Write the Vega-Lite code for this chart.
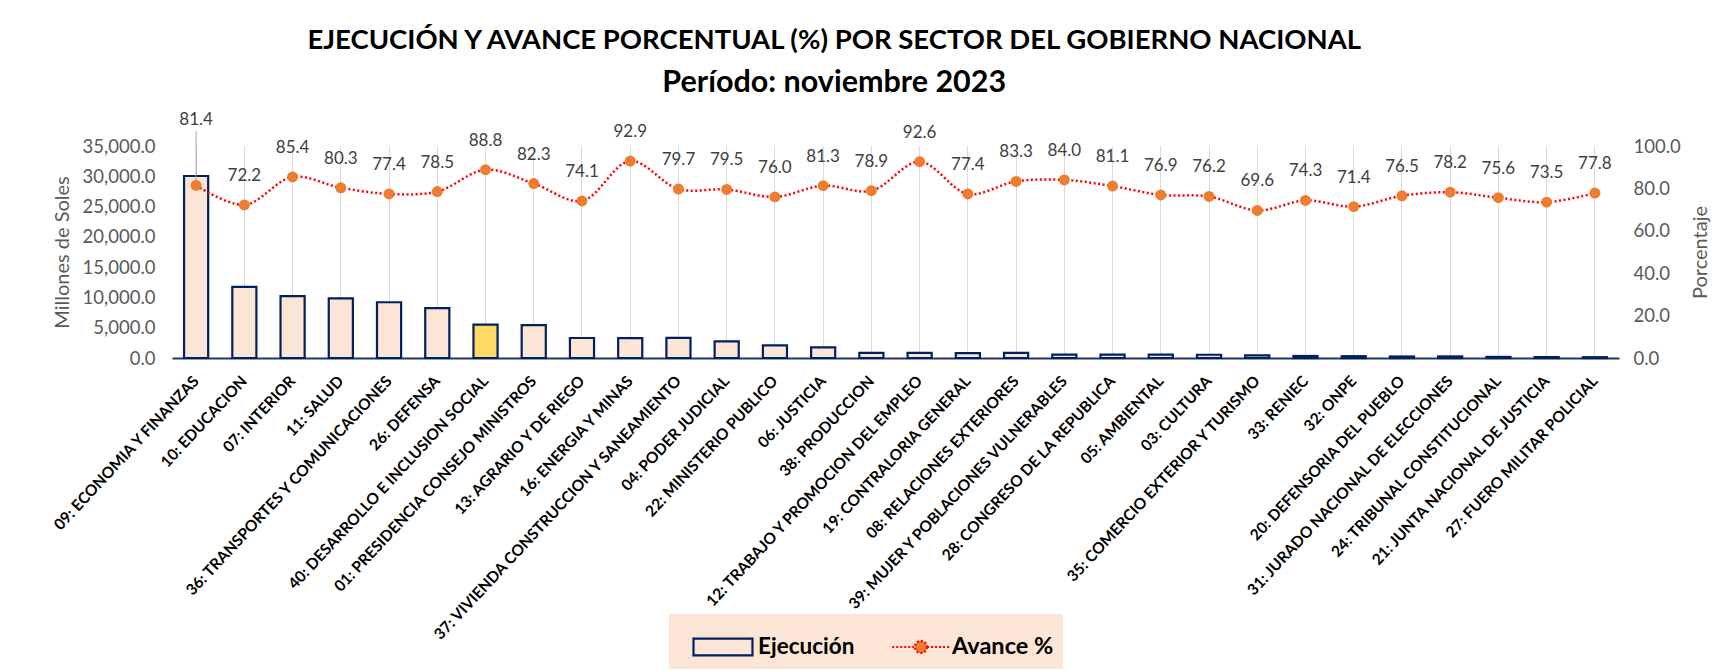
{
  "$schema": "https://vega.github.io/schema/vega-lite/v6.json",
  "width": 1447,
  "height": 212,
  "padding": {"left": 50, "top": 27, "right": 10, "bottom": 0},
  "background": "white",
  "title": {
    "text": "EJECUCIÓN Y AVANCE PORCENTUAL (%) POR SECTOR DEL GOBIERNO NACIONAL",
    "subtitle": "Período: noviembre 2023",
    "font": "Lato", "fontSize": 27.5, "fontWeight": "bold", "color": "#000000",
    "subtitleFont": "Lato", "subtitleFontSize": 30.5, "subtitleFontWeight": "bold", "subtitleColor": "#000000",
    "subtitlePadding": 13,
    "anchor": "middle", "frame": "bounds", "dx": -46, "offset": 13
  },
  "data": {
    "values": [
      {"sector": "09: ECONOMIA Y FINANZAS", "ejecucion": 30050, "avance": 81.4},
      {"sector": "10: EDUCACION", "ejecucion": 11750, "avance": 72.2},
      {"sector": "07: INTERIOR", "ejecucion": 10200, "avance": 85.4},
      {"sector": "11: SALUD", "ejecucion": 9850, "avance": 80.3},
      {"sector": "36: TRANSPORTES Y COMUNICACIONES", "ejecucion": 9200, "avance": 77.4},
      {"sector": "26: DEFENSA", "ejecucion": 8250, "avance": 78.5},
      {"sector": "40: DESARROLLO E INCLUSION SOCIAL", "ejecucion": 5500, "avance": 88.8},
      {"sector": "01: PRESIDENCIA CONSEJO MINISTROS", "ejecucion": 5420, "avance": 82.3},
      {"sector": "13: AGRARIO Y DE RIEGO", "ejecucion": 3300, "avance": 74.1},
      {"sector": "16: ENERGIA Y MINAS", "ejecucion": 3290, "avance": 92.9},
      {"sector": "37: VIVIENDA CONSTRUCCION Y SANEAMIENTO", "ejecucion": 3310, "avance": 79.7},
      {"sector": "04: PODER JUDICIAL", "ejecucion": 2750, "avance": 79.5},
      {"sector": "22: MINISTERIO PUBLICO", "ejecucion": 2090, "avance": 76.0},
      {"sector": "06: JUSTICIA", "ejecucion": 1760, "avance": 81.3},
      {"sector": "38: PRODUCCION", "ejecucion": 830, "avance": 78.9},
      {"sector": "12: TRABAJO Y PROMOCION DEL EMPLEO", "ejecucion": 840, "avance": 92.6},
      {"sector": "19: CONTRALORIA GENERAL", "ejecucion": 820, "avance": 77.4},
      {"sector": "08: RELACIONES EXTERIORES", "ejecucion": 850, "avance": 83.3},
      {"sector": "39: MUJER Y POBLACIONES VULNERABLES", "ejecucion": 560, "avance": 84.0},
      {"sector": "28: CONGRESO DE LA REPUBLICA", "ejecucion": 570, "avance": 81.1},
      {"sector": "05: AMBIENTAL", "ejecucion": 550, "avance": 76.9},
      {"sector": "03: CULTURA", "ejecucion": 540, "avance": 76.2},
      {"sector": "35: COMERCIO EXTERIOR Y TURISMO", "ejecucion": 420, "avance": 69.6},
      {"sector": "33: RENIEC", "ejecucion": 330, "avance": 74.3},
      {"sector": "32: ONPE", "ejecucion": 300, "avance": 71.4},
      {"sector": "20: DEFENSORIA DEL PUEBLO", "ejecucion": 250, "avance": 76.5},
      {"sector": "31: JURADO NACIONAL DE ELECCIONES", "ejecucion": 260, "avance": 78.2},
      {"sector": "24: TRIBUNAL CONSTITUCIONAL", "ejecucion": 180, "avance": 75.6},
      {"sector": "21: JUNTA NACIONAL DE JUSTICIA", "ejecucion": 150, "avance": 73.5},
      {"sector": "27: FUERO MILITAR POLICIAL", "ejecucion": 130, "avance": 77.8}
    ]
  },
  "encoding": {
    "x": {
      "field": "sector", "type": "nominal", "sort": null,
      "scale": {"paddingInner": 0.5, "paddingOuter": 0.25},
      "axis": {
        "title": null, "labelAngle": -47, "labelAlign": "right", "labelBaseline": "middle",
        "labelFont": "Lato", "labelFontSize": 15.5, "labelFontWeight": "bold",
        "labelColor": "#000000", "labelPadding": 20, "labelLimit": 500, "labelOffset": 0,
        "ticks": false, "tickSize": 0,
        "domainColor": "#203864", "domainWidth": 2,
        "grid": true, "gridColor": "#D9D9D9", "gridWidth": 1, "bandPosition": 0.5
      }
    }
  },
  "layer": [
    {
      "mark": {"type": "bar", "stroke": "#002060", "strokeWidth": 2.2},
      "encoding": {
        "y": {
          "field": "ejecucion", "type": "quantitative",
          "scale": {"domain": [0, 35000]},
          "axis": {
            "title": "Millones de Soles", "titleFont": "Lato", "titleFontSize": 20, "titleFontWeight": "normal",
            "titleColor": "#595959", "titlePadding": 10,
            "labelFont": "Lato", "labelFontSize": 18.5, "labelColor": "#595959", "labelPadding": 17,
            "format": ",.1f", "values": [0, 5000, 10000, 15000, 20000, 25000, 30000, 35000],
            "labelOverlap": false,
            "domain": false, "ticks": false, "tickSize": 0, "grid": false
          }
        },
        "fill": {
          "datum": "Ejecución",
          "condition": {"test": "datum.sector === '40: DESARROLLO E INCLUSION SOCIAL'", "value": "#FFD966"},
          "scale": {"domain": ["Ejecución"], "range": ["#FBE5D6"]},
          "legend": {
            "title": null, "orient": "none", "legendX": 497, "legendY": 468, "direction": "horizontal",
            "fillColor": "#FBE5D6", "padding": 9,
            "labelFont": "Lato", "labelFontSize": 22.5, "labelFontWeight": "bold", "labelColor": "#000000",
            "symbolSize": 2025, "labelOffset": 11, "symbolOffset": 21,
            "symbolType": "M-1.31,-0.37H1.31V0.37H-1.31Z",
            "symbolStrokeColor": "#002060", "symbolStrokeWidth": 2.2
          }
        }
      }
    },
    {
      "layer": [
        {
          "mark": {"type": "line", "strokeDash": [2, 2.5], "strokeWidth": 2.5, "interpolate": "catmull-rom"},
          "encoding": {
            "y": {
              "field": "avance", "type": "quantitative",
              "scale": {"domain": [0, 100]},
              "axis": {
                "orient": "right", "title": "Porcentaje", "titleFont": "Lato", "titleFontSize": 20,
                "titleFontWeight": "normal", "titleColor": "#595959", "titlePadding": 10,
                "titleAngle": 270, "titleBaseline": "top",
                "labelFont": "Lato", "labelFontSize": 18.5, "labelColor": "#595959", "labelPadding": 14,
                "format": ".1f", "values": [0, 10, 20, 30, 40, 50, 60, 70, 80, 90, 100],
                "labelOverlap": false,
                "domain": false, "ticks": false, "tickSize": 0, "grid": false
              }
            },
            "stroke": {
              "datum": "Avance %",
              "scale": {"domain": ["Avance %"], "range": ["#FF0000"]},
              "legend": {
                "title": null, "orient": "none", "legendX": 690, "legendY": 468, "direction": "horizontal",
                "fillColor": "#FBE5D6", "padding": 9,
                "labelFont": "Lato", "labelFontSize": 23.5, "labelFontWeight": "bold", "labelColor": "#000000",
                "symbolSize": 2025, "labelOffset": 7, "symbolOffset": 26,
                "symbolType": "M0,-0.37h0M0,0.37h0M-1.28,0H-0.27M0.27,0H1.28M0.267,0A0.267,0.267,0,1,1,-0.267,0A0.267,0.267,0,1,1,0.267,0",
                "symbolFillColor": "#ED7D31", "symbolStrokeWidth": 2.2, "symbolDash": [2, 2]
              }
            }
          }
        },
        {
          "transform": [{"filter": "datum.sector === '09: ECONOMIA Y FINANZAS'"}],
          "mark": {"type": "rule", "color": "#A6A6A6", "strokeWidth": 1},
          "encoding": {
            "y": {"field": "avance", "type": "quantitative"},
            "y2": {"datum": 107}
          }
        },
        {
          "mark": {"type": "point", "filled": true, "size": 120, "color": "#ED7D31", "opacity": 1},
          "encoding": {"y": {"field": "avance", "type": "quantitative"}}
        },
        {
          "transform": [{"filter": "datum.sector !== '09: ECONOMIA Y FINANZAS'"}],
          "mark": {"type": "text", "font": "Lato", "fontSize": 17, "color": "#404040", "baseline": "alphabetic", "dy": -24},
          "encoding": {
            "y": {"field": "avance", "type": "quantitative"},
            "text": {"field": "avance", "type": "quantitative", "format": ".1f"}
          }
        },
        {
          "transform": [{"filter": "datum.sector === '09: ECONOMIA Y FINANZAS'"}],
          "mark": {"type": "text", "font": "Lato", "fontSize": 17, "color": "#404040", "baseline": "alphabetic", "dy": -60},
          "encoding": {
            "y": {"field": "avance", "type": "quantitative"},
            "text": {"field": "avance", "type": "quantitative", "format": ".1f"}
          }
        }
      ]
    }
  ],
  "resolve": {"scale": {"y": "independent"}},
  "config": {
    "view": {"stroke": null}
  }
}
